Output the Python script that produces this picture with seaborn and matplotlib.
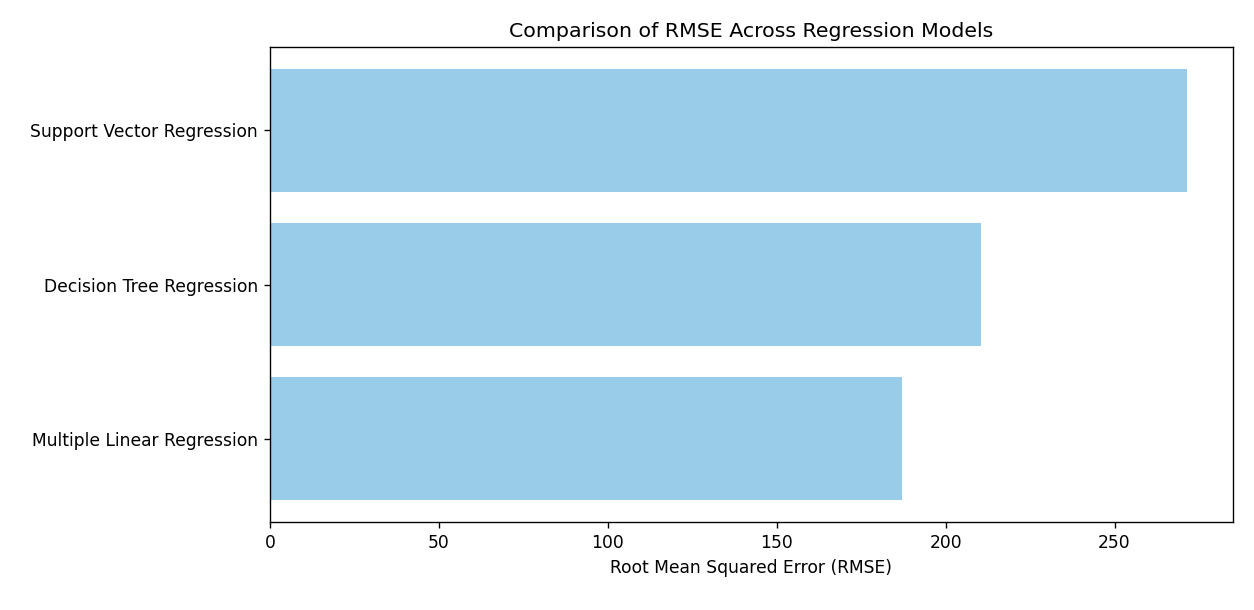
import matplotlib
matplotlib.use("Agg")
import matplotlib.pyplot as plt
import pandas as pd
import seaborn as sns

models = ["Support Vector Regression", "Decision Tree Regression", "Multiple Linear Regression"]
rmse = [271.5, 210.6, 187.0]

df = pd.DataFrame({"model": models, "rmse": rmse})

# rendered a bit larger than default, scale everything by ~1.23
s = 1.23
plt.rcParams["axes.linewidth"] = 0.8 * s
plt.rcParams["xtick.major.width"] = 0.8 * s
plt.rcParams["ytick.major.width"] = 0.8 * s
plt.rcParams["xtick.major.size"] = 3.5 * s
plt.rcParams["ytick.major.size"] = 3.5 * s
plt.rcParams["xtick.major.pad"] = 3.5 * s
plt.rcParams["ytick.major.pad"] = 3.5 * s

fig = plt.figure(figsize=(12.54, 6.1), dpi=100)
ax = fig.add_axes([270 / 1254, 1 - 522 / 610, (1233 - 270) / 1254, (522 - 47) / 610])

sns.barplot(data=df, x="rmse", y="model", order=models, color="#98CCE8",
            saturation=1, width=0.8, ax=ax)

ax.set_xlim(0, max(rmse) * 1.05)
ax.set_ylim(2.54, -0.54)
ax.set_title("Comparison of RMSE Across Regression Models", fontsize=12 * s, pad=6 * s)
ax.set_xlabel("Root Mean Squared Error (RMSE)", fontsize=10 * s, labelpad=4 * s)
ax.set_ylabel("")
ax.tick_params(labelsize=10 * s)

fig.savefig("out.png", dpi=100)
